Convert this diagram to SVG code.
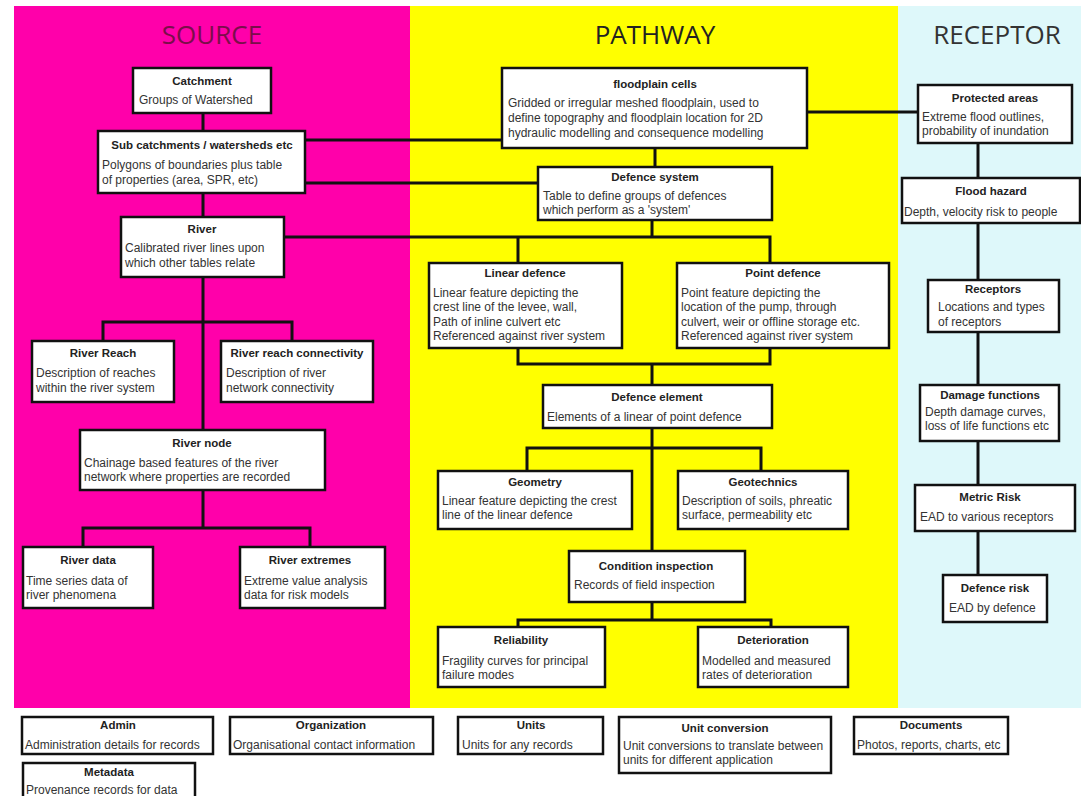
<svg xmlns="http://www.w3.org/2000/svg" width="1081" height="796" viewBox="0 0 1081 796">
<style>
.box{fill:#fff;stroke:#111;stroke-width:2.5}
.t{font-family:"Liberation Sans",Arial,sans-serif;font-size:11.5px;font-weight:bold;fill:#222;text-anchor:middle}
.b{font-family:"Liberation Sans",Arial,sans-serif;font-size:12px;fill:#333}
.h{font-family:"Open Sans","Liberation Sans",sans-serif;font-size:26px;text-anchor:middle}
#connectors path{fill:none;stroke:#111;stroke-width:3}
</style>
<rect x="0" y="0" width="1081" height="796" fill="#fff"/>
<g id="panels">
<rect x="14" y="6" width="396" height="702" fill="#FF00AA"/>
<rect x="410" y="6" width="488" height="702" fill="#FFFF00"/>
<rect x="898" y="6" width="183" height="702" fill="#DEF8FA"/>
<text class="h" x="212" y="44" fill="#7A0E4A">SOURCE</text>
<text class="h" x="655" y="44" fill="#222">PATHWAY</text>
<text class="h" x="997" y="44" fill="#333">RECEPTOR</text>
</g>
<g id="connectors">
<path d="M203 113V131M203 193V217M203 277V430M103 341V322H292V341M203 490V528M83 547V528H310V547"/>
<path d="M305 140H502M305 183H538M284 237H770V263M518 263V237M655 148V167M652 220V237"/>
<path d="M518 348V364H770V348M652 364V385M652 428V551M527 471V448H761V471M652 602V620M518 627V620H771V627"/>
<path d="M807 112H918M978 143V178M978 223V280M978 332V385M978 441V485M978 531V575"/>
</g>
<g id="catchment"><rect class="box" x="133" y="68" width="138" height="45"/><text class="t" x="202" y="85">Catchment</text><text class="b" x="139" y="104">Groups of Watershed</text></g>
<g id="subcatchments"><rect class="box" x="98" y="131" width="207" height="62"/><text class="t" x="202" y="149">Sub catchments / watersheds etc</text><text class="b" x="102" y="169">Polygons  of boundaries  plus table</text><text class="b" x="102" y="184">of properties  (area, SPR, etc)</text></g>
<g id="river"><rect class="box" x="121" y="217" width="163" height="60"/><text class="t" x="202" y="233">River</text><text class="b" x="125" y="252">Calibrated river  lines  upon</text><text class="b" x="125" y="267">which other tables relate</text></g>
<g id="riverreach"><rect class="box" x="32" y="341" width="142" height="61"/><text class="t" x="103" y="357">River Reach</text><text class="b" x="36" y="377">Description of reaches</text><text class="b" x="36" y="392">within the river system</text></g>
<g id="riverreachconnectivity"><rect class="box" x="221" y="341" width="152" height="61"/><text class="t" x="297" y="357">River reach connectivity</text><text class="b" x="226" y="377">Description of river</text><text class="b" x="226" y="392">network connectivity</text></g>
<g id="rivernode"><rect class="box" x="80" y="430" width="245" height="60"/><text class="t" x="202" y="447">River node</text><text class="b" x="84" y="467">Chainage based features  of the river</text><text class="b" x="84" y="481">network where properties  are recorded</text></g>
<g id="riverdata"><rect class="box" x="23" y="547" width="130" height="61"/><text class="t" x="88" y="564">River data</text><text class="b" x="26" y="585">Time series data of</text><text class="b" x="26" y="599">river phenomena</text></g>
<g id="riverextremes"><rect class="box" x="240" y="547" width="145" height="61"/><text class="t" x="310" y="564">River extremes</text><text class="b" x="244" y="585">Extreme value  analysis</text><text class="b" x="244" y="599">data for risk models</text></g>
<g id="floodplain"><rect class="box" x="502" y="68" width="305" height="80"/><text class="t" x="655" y="88">floodplain cells</text><text class="b" x="508" y="107">Gridded or irregular  meshed floodplain,  used to</text><text class="b" x="508" y="122">define topography  and floodplain  location  for 2D</text><text class="b" x="508" y="137">hydraulic modelling  and consequence  modelling</text></g>
<g id="defencesystem"><rect class="box" x="538" y="167" width="234" height="53"/><text class="t" x="655" y="181">Defence system</text><text class="b" x="543" y="200">Table to define  groups  of defences</text><text class="b" x="543" y="214">which perform as a 'system'</text></g>
<g id="lineardefence"><rect class="box" x="429" y="263" width="193" height="85"/><text class="t" x="525" y="277">Linear defence</text><text class="b" x="433" y="297">Linear feature depicting  the</text><text class="b" x="433" y="311">crest line  of the levee,  wall,</text><text class="b" x="433" y="326">Path of inline  culvert etc</text><text class="b" x="433" y="340">Referenced against river  system</text></g>
<g id="pointdefence"><rect class="box" x="677" y="263" width="212" height="85"/><text class="t" x="783" y="277">Point defence</text><text class="b" x="681" y="297">Point feature depicting  the</text><text class="b" x="681" y="311">location of the pump, through</text><text class="b" x="681" y="326">culvert, weir or offline  storage etc.</text><text class="b" x="681" y="340">Referenced against river system</text></g>
<g id="defenceelement"><rect class="box" x="543" y="385" width="229" height="43"/><text class="t" x="657" y="401">Defence element</text><text class="b" x="547" y="421">Elements of  a linear of point  defence</text></g>
<g id="geometry"><rect class="box" x="438" y="471" width="194" height="58"/><text class="t" x="535" y="486">Geometry</text><text class="b" x="442" y="505">Linear feature depicting  the crest</text><text class="b" x="442" y="519">line of the linear defence</text></g>
<g id="geotechnics"><rect class="box" x="678" y="471" width="170" height="58"/><text class="t" x="763" y="486">Geotechnics</text><text class="b" x="682" y="505">Description of soils,  phreatic</text><text class="b" x="682" y="519">surface, permeability  etc</text></g>
<g id="conditioninspection"><rect class="box" x="569" y="551" width="176" height="51"/><text class="t" x="656" y="570">Condition inspection</text><text class="b" x="574" y="589">Records of field  inspection</text></g>
<g id="reliability"><rect class="box" x="438" y="627" width="167" height="60"/><text class="t" x="521" y="644">Reliability</text><text class="b" x="442" y="665">Fragility curves for principal</text><text class="b" x="442" y="679">failure modes</text></g>
<g id="deterioration"><rect class="box" x="698" y="627" width="150" height="60"/><text class="t" x="773" y="644">Deterioration</text><text class="b" x="702" y="665">Modelled  and measured</text><text class="b" x="702" y="679">rates of deterioration</text></g>
<g id="protectedareas"><rect class="box" x="918" y="85" width="154" height="58"/><text class="t" x="995" y="102">Protected areas</text><text class="b" x="922" y="121">Extreme flood  outlines,</text><text class="b" x="922" y="135">probability  of inundation</text></g>
<g id="floodhazard"><rect class="box" x="902" y="178" width="178" height="45"/><text class="t" x="991" y="195">Flood hazard</text><text class="b" x="904" y="216">Depth, velocity risk to people</text></g>
<g id="receptors"><rect class="box" x="928" y="280" width="131" height="52"/><text class="t" x="993" y="293">Receptors</text><text class="b" x="938" y="311">Locations and types</text><text class="b" x="938" y="326">of receptors</text></g>
<g id="damagefunctions"><rect class="box" x="920" y="385" width="139" height="56"/><text class="t" x="990" y="399">Damage functions</text><text class="b" x="925" y="416">Depth damage curves,</text><text class="b" x="925" y="430">loss of life functions  etc</text></g>
<g id="metricrisk"><rect class="box" x="915" y="485" width="160" height="46"/><text class="t" x="990" y="501">Metric Risk</text><text class="b" x="920" y="521">EAD to various  receptors</text></g>
<g id="defencerisk"><rect class="box" x="943" y="575" width="104" height="47"/><text class="t" x="995" y="592">Defence risk</text><text class="b" x="949" y="612">EAD by defence</text></g>
<g id="admin"><rect class="box" x="22" y="717" width="191" height="37"/><text class="t" x="118" y="729">Admin</text><text class="b" x="25" y="749">Administration  details for records</text></g>
<g id="organization"><rect class="box" x="230" y="717" width="203" height="37"/><text class="t" x="331" y="729">Organization</text><text class="b" x="233" y="749">Organisational contact information</text></g>
<g id="units"><rect class="box" x="458" y="717" width="145" height="37"/><text class="t" x="531" y="729">Units</text><text class="b" x="462" y="749">Units for any records</text></g>
<g id="unitconversion"><rect class="box" x="619" y="717" width="212" height="56"/><text class="t" x="725" y="732">Unit conversion</text><text class="b" x="623" y="750">Unit conversions  to translate between</text><text class="b" x="623" y="764">units for different  application</text></g>
<g id="documents"><rect class="box" x="854" y="717" width="154" height="37"/><text class="t" x="931" y="729">Documents</text><text class="b" x="857" y="749">Photos, reports,  charts, etc</text></g>
<g id="metadata"><rect class="box" x="23" y="763" width="172" height="40"/><text class="t" x="109" y="776">Metadata</text><text class="b" x="26" y="794">Provenance records for data</text></g>
</svg>
